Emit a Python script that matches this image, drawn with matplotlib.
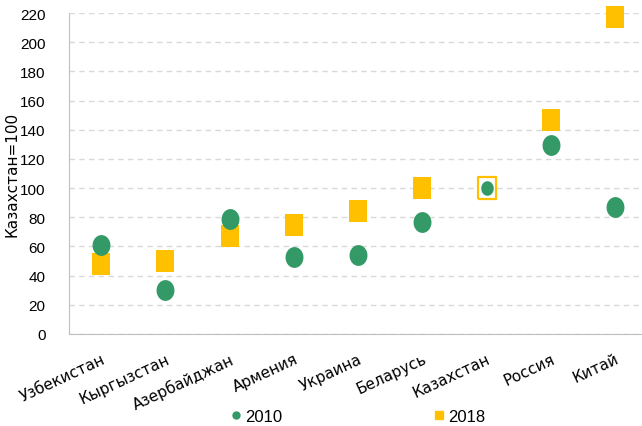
import matplotlib
matplotlib.use('Agg')
from matplotlib import pyplot as plt
import numpy as np

countries = ['Узбекистан', 'Кыргызстан', 'Азербайджан', 'Армения', 'Украина',
             'Беларусь', 'Казахстан', 'Россия', 'Китай']
y2010 = [61, 30, 79, 53, 54, 77, 100, 129.5, 87]
y2018 = [48, 50, 67, 75, 84, 100, 100, 147, 217]

green = '#339966'
orange = '#FFC000'

# slightly tall markers like the original
ell = [(0.43 * np.cos(t), 0.5 * np.sin(t)) for t in np.linspace(0, 2 * np.pi, 40)]
rect = [(-0.43, -0.5), (0.43, -0.5), (0.43, 0.5), (-0.43, 0.5), (-0.43, -0.5)]

plt.rcParams['font.family'] = ['Liberation Sans', 'DejaVu Sans']
fig = plt.figure(figsize=(6.42, 4.27), dpi=100)
ax = fig.add_axes([0.1075, 0.2155, 0.9005, 0.7515])

x = np.arange(len(countries))
kz = countries.index('Казахстан')
for i in x:
    if i == kz:
        ax.plot(i, y2018[i], linestyle='none', marker=rect, markersize=15.5,
                markerfacecolor='white', markeredgecolor=orange, markeredgewidth=1.6,
                zorder=3, clip_on=False)
        ax.plot(i, y2010[i], linestyle='none', marker=ell, markersize=10.5,
                color=green, markeredgewidth=0, zorder=4, clip_on=False)
    else:
        ax.plot(i, y2018[i], linestyle='none', marker=rect, markersize=15.5,
                color=orange, markeredgewidth=0, zorder=3, clip_on=False)
        ax.plot(i, y2010[i], linestyle='none', marker=ell, markersize=15,
                color=green, markeredgewidth=0, zorder=4, clip_on=False)

ax.set_xlim(-0.5, 8.5)
ax.set_ylim(0, 220)
ax.set_yticks(range(0, 221, 20))
ax.set_xticks(x)
ax.set_xticklabels(countries, rotation=25, ha='right', rotation_mode='anchor',
                   fontsize=11, family='DejaVu Sans')
ax.tick_params(axis='y', labelsize=11, length=0, pad=17)
ax.tick_params(axis='x', length=0, pad=12)
ax.grid(axis='y', color='#d9d9d9', linestyle=(0, (4, 3)), linewidth=1)
ax.set_axisbelow(True)
for s in ['top', 'right']:
    ax.spines[s].set_visible(False)
for s in ['left', 'bottom']:
    ax.spines[s].set_color('#bfbfbf')
ax.set_ylabel('Казахстан=100', fontsize=11, family='DejaVu Sans')
ax.yaxis.set_label_coords(-0.085, 0.5)

h1 = ax.plot([], [], linestyle='none', marker='o', color=green, markersize=5)[0]
h2 = ax.plot([], [], linestyle='none', marker='s', color=orange, markersize=6)[0]
fig.legend([h1, h2], ['2010', '2018'], loc='center', bbox_to_anchor=(0.555, 0.022),
           ncol=2, frameon=False, fontsize=12, columnspacing=8.9, handletextpad=0.05,
           handlelength=1)

fig.savefig('out.png', dpi=100)
